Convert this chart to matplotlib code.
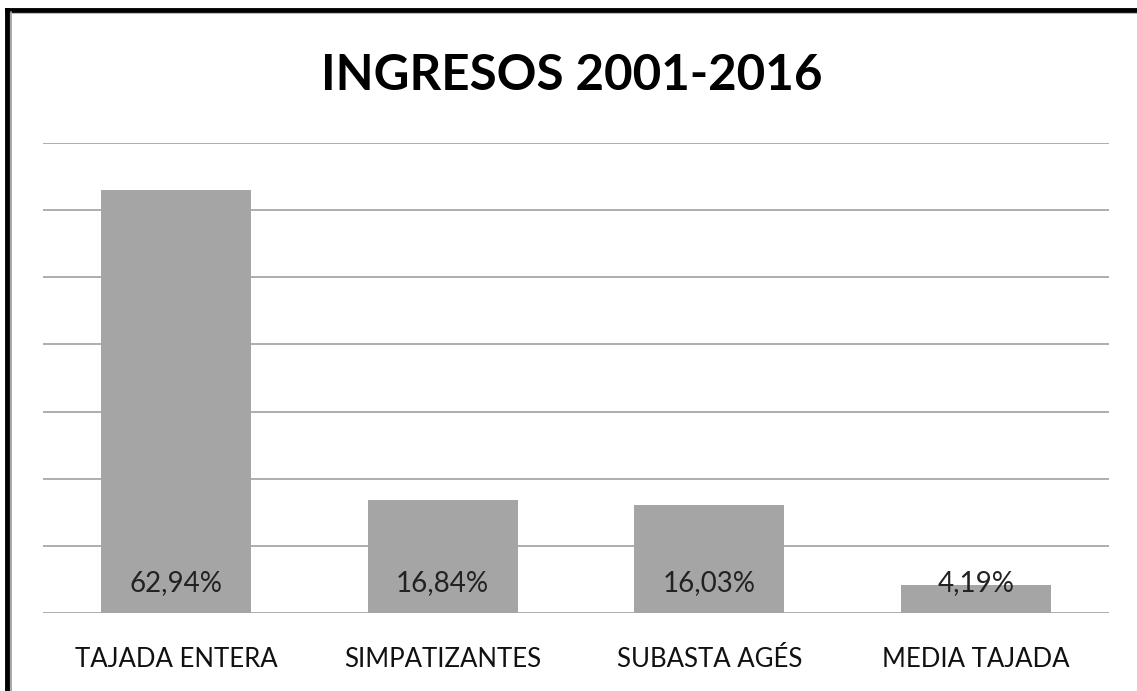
import matplotlib
matplotlib.use("Agg")
import matplotlib.pyplot as plt
from matplotlib.lines import Line2D

categories = ["TAJADA ENTERA", "SIMPATIZANTES", "SUBASTA AGÉS", "MEDIA TAJADA"]
values = [62.94, 16.84, 16.03, 4.19]
value_labels = ["62,94%", "16,84%", "16,03%", "4,19%"]
title = "INGRESOS 2001-2016"

W, H = 1137, 691
plt.rcParams["font.family"] = ["Lato", "DejaVu Sans"]

fig = plt.figure(figsize=(W / 100, H / 100), dpi=100)
fig.patch.set_facecolor("white")

# plot area in pixels: x 43..1109, y 143..613 (from top)
ax = fig.add_axes([43 / W, (H - 613) / H, (1109 - 43) / W, (613 - 143) / H])
x = range(len(categories))
ax.bar(x, values, width=0.563, color="#a5a5a5", zorder=2)
ax.set_xlim(-0.5, len(categories) - 0.5)
ax.set_ylim(0, 70)
ax.set_yticks(range(0, 71, 10))
ax.yaxis.grid(True, color="#a0a0a0", linewidth=1.2, zorder=0)
ax.tick_params(axis="y", left=False, labelleft=False)
ax.tick_params(axis="x", bottom=False, pad=21, labelsize=18.5, labelcolor="#111111")
ax.set_xticks(list(x))
ax.set_xticklabels(categories)
for s in ax.spines.values():
    s.set_visible(False)

for i, lab in enumerate(value_labels):
    ax.annotate(lab, (i, 0), xytext=(0, 21.5), textcoords="offset points",
                ha="center", va="center", fontsize=20, color="#222222", zorder=3)

fig.text(572 / W, 1 - 76 / H, title, ha="center", va="center",
         fontsize=35.5, fontweight="bold", color="black")

# outer frame (only top and left visible)
fig.add_artist(Line2D([7 / W, 1.0], [1 - 10 / H, 1 - 10 / H], color="black", linewidth=3.5))
fig.add_artist(Line2D([7 / W, 7 / W], [0.0, 1 - 10 / H], color="black", linewidth=3.5))
fig.add_artist(Line2D([11 / W, 11 / W], [0.0, 1 - 12 / H], color="#999999", linewidth=1.2))
fig.add_artist(Line2D([11 / W, 1.0], [1 - 12.5 / H, 1 - 12.5 / H], color="#bbbbbb", linewidth=0.8))

fig.savefig("out.png", dpi=100)
